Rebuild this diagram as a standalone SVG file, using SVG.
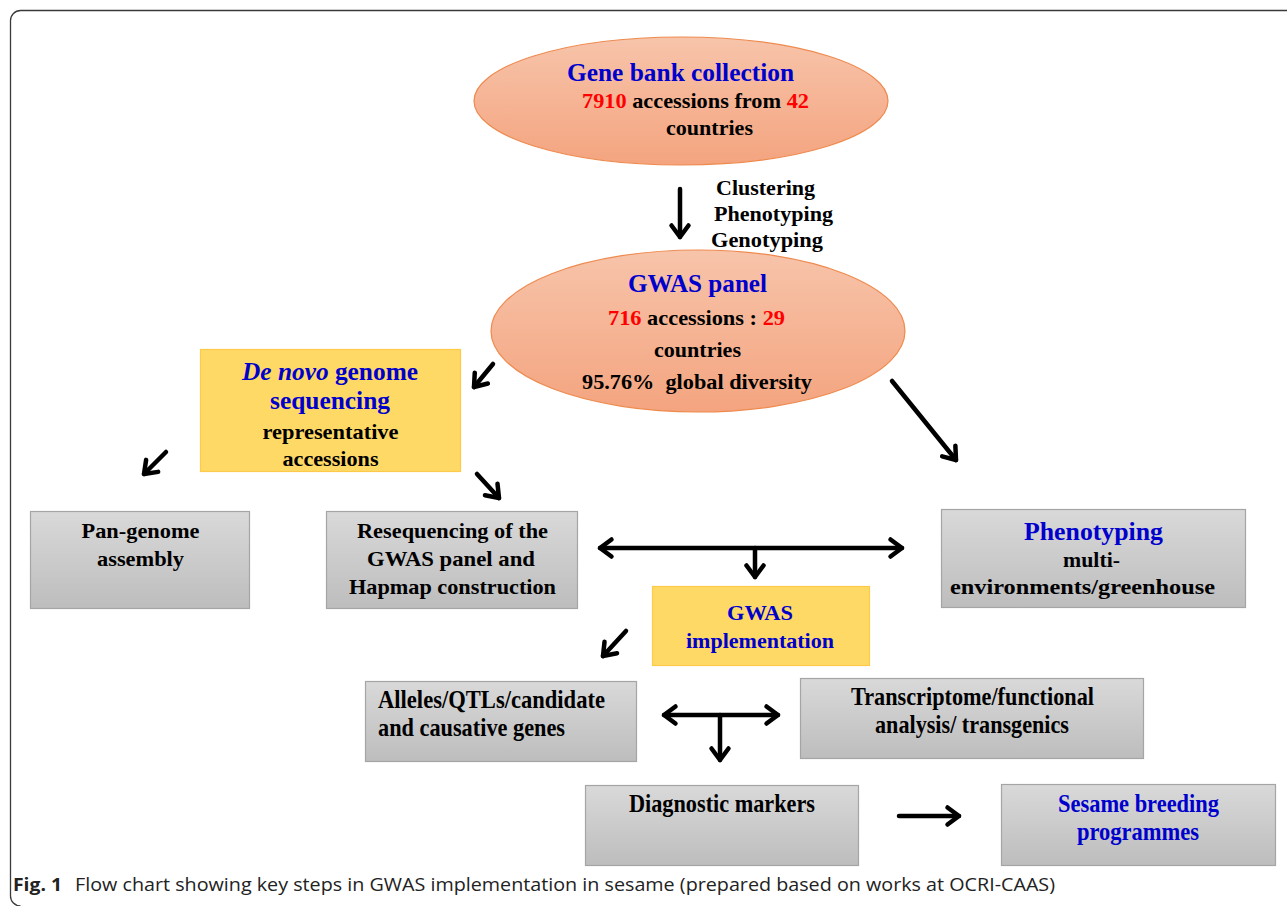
<svg xmlns="http://www.w3.org/2000/svg" width="1287" height="906" viewBox="0 0 1287 906">
<defs>
<linearGradient id="gEll" x1="0" y1="0" x2="0" y2="1">
<stop offset="0" stop-color="#F7C4AA"/>
<stop offset="1" stop-color="#F4A47F"/>
</linearGradient>
<linearGradient id="gGray" x1="0" y1="0" x2="0" y2="1">
<stop offset="0" stop-color="#D9D9D9"/>
<stop offset="1" stop-color="#BDBDBD"/>
</linearGradient>
<marker id="chev" markerUnits="userSpaceOnUse" viewBox="0 0 20 20" markerWidth="20" markerHeight="20" refX="16" refY="10" orient="auto-start-reverse" overflow="visible">
<path d="M4.5,1.5 L16,10 L4.5,18.5" fill="none" stroke="#000" stroke-width="4.5" stroke-linecap="round" stroke-linejoin="round"/>
</marker>
</defs>
<style>
.ell{fill:url(#gEll);stroke:#EE8A4E;stroke-width:1.2}
.gray{fill:url(#gGray);stroke:#A5A5A5;stroke-width:1.2}
.yel{fill:#FFD966;stroke:#FFC94A;stroke-width:1.2}
text{font-family:"Liberation Serif","Times New Roman",serif;font-weight:bold;fill:#000}
.c{text-anchor:middle}
.b{fill:#0000CC}
.r{fill:#FF0000}
.h{font-size:25px}
.t{font-size:22px}
.n{font-size:26px}
.arr{fill:none;stroke:#000;stroke-width:4.5;stroke-linecap:round;marker-end:url(#chev)}
.dbl{marker-start:url(#chev)}
.cap{font-family:"Open Sans","Liberation Sans",Arial,sans-serif;font-size:17.5px;fill:#222}
</style>

<path d="M1287,10.5 H20.5 A10,10 0 0 0 10.5,20.5 V896 A10,10 0 0 0 20.5,906" fill="none" stroke="#3a3a3a" stroke-width="1.3"/>

<g id="gene-bank">
<ellipse class="ell" cx="681" cy="101" rx="207" ry="64"/>
<text class="h b c" x="680.5" y="81" textLength="227" lengthAdjust="spacingAndGlyphs">Gene bank collection</text>
<text class="t" x="582" y="108" textLength="227" lengthAdjust="spacingAndGlyphs"><tspan class="r">7910</tspan> accessions from <tspan class="r">42</tspan></text>
<text class="t c" x="709.5" y="135" textLength="87" lengthAdjust="spacingAndGlyphs">countries</text>
</g>

<g id="steps-label">
<text class="t" x="716" y="195" textLength="99" lengthAdjust="spacingAndGlyphs">Clustering</text>
<text class="t" x="714" y="221" textLength="119" lengthAdjust="spacingAndGlyphs">Phenotyping</text>
<text class="t" x="711" y="247" textLength="112" lengthAdjust="spacingAndGlyphs">Genotyping</text>
</g>

<g id="gwas-panel">
<ellipse class="ell" cx="698" cy="331" rx="207" ry="81"/>
<text class="h b c" x="697.5" y="292" textLength="139" lengthAdjust="spacingAndGlyphs">GWAS panel</text>
<text class="t c" x="696.5" y="325" textLength="177" lengthAdjust="spacingAndGlyphs"><tspan class="r">716</tspan> accessions : <tspan class="r">29</tspan></text>
<text class="t c" x="697.5" y="357" textLength="87" lengthAdjust="spacingAndGlyphs">countries</text>
<text class="t c" x="697" y="389" textLength="230" lengthAdjust="spacingAndGlyphs" xml:space="preserve">95.76%  global diversity</text>
</g>

<g id="de-novo">
<rect class="yel" x="200.5" y="349.5" width="260" height="122"/>
<text class="h b c" x="330" y="380" textLength="176" lengthAdjust="spacingAndGlyphs"><tspan font-style="italic">De novo</tspan> genome</text>
<text class="h b c" x="330" y="409" textLength="120" lengthAdjust="spacingAndGlyphs">sequencing</text>
<text class="t c" x="330.5" y="439" textLength="136" lengthAdjust="spacingAndGlyphs">representative</text>
<text class="t c" x="330.5" y="466" textLength="96" lengthAdjust="spacingAndGlyphs">accessions</text>
</g>

<g id="pan-genome">
<rect class="gray" x="30.5" y="511.5" width="219" height="97"/>
<text class="t c" x="140.5" y="538" textLength="118" lengthAdjust="spacingAndGlyphs">Pan-genome</text>
<text class="t c" x="140.5" y="566" textLength="87" lengthAdjust="spacingAndGlyphs">assembly</text>
</g>

<g id="resequencing">
<rect class="gray" x="326.5" y="511.5" width="251" height="97"/>
<text class="t c" x="452.5" y="538" textLength="191" lengthAdjust="spacingAndGlyphs">Resequencing of the</text>
<text class="t c" x="451" y="566" textLength="168" lengthAdjust="spacingAndGlyphs">GWAS panel and</text>
<text class="t c" x="452.5" y="594" textLength="207" lengthAdjust="spacingAndGlyphs">Hapmap construction</text>
</g>

<g id="phenotyping">
<rect class="gray" x="941.5" y="509.5" width="304" height="98"/>
<text class="h b c" x="1093.5" y="540" textLength="139" lengthAdjust="spacingAndGlyphs">Phenotyping</text>
<text class="t c" x="1091.5" y="567" textLength="57" lengthAdjust="spacingAndGlyphs">multi-</text>
<text class="t c" x="1082.5" y="594" textLength="265" lengthAdjust="spacingAndGlyphs">environments/greenhouse</text>
</g>

<g id="gwas-impl">
<rect class="yel" x="652.5" y="586.5" width="217" height="79"/>
<text class="t b c" x="760" y="620" textLength="66" lengthAdjust="spacingAndGlyphs">GWAS</text>
<text class="t b c" x="760" y="648" textLength="148" lengthAdjust="spacingAndGlyphs">implementation</text>
</g>

<g id="alleles">
<rect class="gray" x="365.5" y="681.5" width="271" height="80"/>
<text class="n" x="378" y="708" textLength="227" lengthAdjust="spacingAndGlyphs">Alleles/QTLs/candidate</text>
<text class="n" x="378" y="736" textLength="187" lengthAdjust="spacingAndGlyphs">and causative genes</text>
</g>

<g id="transcriptome">
<rect class="gray" x="800.5" y="678.5" width="343" height="80"/>
<text class="n c" x="972.5" y="705" textLength="243" lengthAdjust="spacingAndGlyphs">Transcriptome/functional</text>
<text class="n c" x="972" y="733" textLength="194" lengthAdjust="spacingAndGlyphs">analysis/ transgenics</text>
</g>

<g id="diagnostic">
<rect class="gray" x="585.5" y="785.5" width="273" height="80"/>
<text class="n c" x="722" y="812" textLength="186" lengthAdjust="spacingAndGlyphs">Diagnostic markers</text>
</g>

<g id="breeding">
<rect class="gray" x="1001.5" y="784.5" width="274" height="81"/>
<text class="n b c" x="1138.5" y="812" textLength="161" lengthAdjust="spacingAndGlyphs">Sesame breeding</text>
<text class="n b c" x="1138" y="840" textLength="122" lengthAdjust="spacingAndGlyphs">programmes</text>
</g>

<g id="connectors">
<line class="arr" x1="680" y1="189" x2="680" y2="237"/>
<line class="arr" x1="493" y1="364" x2="474" y2="387"/>
<line class="arr" x1="892" y1="381" x2="956" y2="460"/>
<line class="arr" x1="166" y1="452" x2="144" y2="474"/>
<line class="arr" x1="477" y1="474" x2="499" y2="498"/>
<line class="arr dbl" x1="600" y1="548" x2="902" y2="548"/>
<line class="arr" x1="755" y1="548" x2="755" y2="577"/>
<line class="arr" x1="626" y1="631" x2="603" y2="656"/>
<line class="arr dbl" x1="664" y1="715" x2="778" y2="715"/>
<line class="arr" x1="720" y1="715" x2="720" y2="760"/>
<line class="arr" x1="899" y1="816" x2="959" y2="816"/>
</g>

<g id="caption">
<text class="cap" x="13" y="891" textLength="49" lengthAdjust="spacingAndGlyphs" style="font-size:18.5px">Fig. 1</text>
<text class="cap" x="75" y="891" textLength="980" lengthAdjust="spacingAndGlyphs" style="font-weight:normal">Flow chart showing key steps in GWAS implementation in sesame (prepared based on works at OCRI-CAAS)</text>
</g>
</svg>
